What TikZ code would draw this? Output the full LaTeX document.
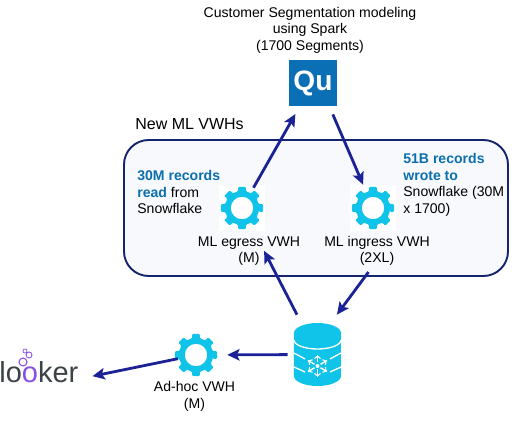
\documentclass[tikz,border=0pt]{standalone}
\usepackage{fontspec}
\setmainfont{Liberation Sans}
\usetikzlibrary{arrows.meta}
\definecolor{navyline}{HTML}{14246E}
\definecolor{panelfill}{HTML}{F8F9FC}
\definecolor{arrowblue}{HTML}{1A2296}
\definecolor{gearcyan}{HTML}{0FC4E8}
\definecolor{quboxblue}{HTML}{0A6FB4}
\definecolor{notesblue}{HTML}{0A6FAE}
\definecolor{lookergrey}{HTML}{3C4345}
\definecolor{lookerplum}{HTML}{8A4FE8}

\begin{document}
\begin{tikzpicture}[
  font=\fontsize{8}{9.4}\selectfont,
  arrow/.style={-{Stealth[length=7pt,width=6.5pt,inset=1.5pt]}, line width=1.6pt, draw=arrowblue},
  iconbox/.style={minimum size=0.92cm, inner sep=0pt},
  caplabel/.style={align=center},
  note/.style={align=left, anchor=west, inner sep=0pt},
  dbline/.style={draw=white, line width=0.75pt},
  cogicon/.pic={
    \fill[gearcyan, even odd rule, rounded corners=0.6pt] (-13:0.345)
      \foreach \a in {0,45,...,315} {
        -- (\a-13:0.345) -- (\a-10:0.43) -- (\a+10:0.43) -- (\a+13:0.345)
      } -- cycle
      (0,0) circle (0.225);
  },
]
\useasboundingbox (0,0) rectangle (10.32,8.42);

% ---- panel ----
\draw[rounded corners=14pt, draw=navyline, line width=1.1pt, fill=panelfill] (2.48,2.90) rectangle (10.16,5.62);
\node[font=\fontsize{9.1}{10}\selectfont, anchor=west, inner sep=0pt] (paneltitle) at (2.70,5.94) {New ML VWHs};

% ---- top: modeling ----
\node[caplabel] (modeling) at (6.2,7.82) {Customer Segmentation modeling\\using Spark\\(1700 Segments)};
\node[fill=quboxblue, minimum width=0.96cm, minimum height=0.92cm, inner sep=0pt,
  text=white, font=\fontsize{16}{16}\selectfont\bfseries] (qu) at (6.26,6.76) {Qu};

% ---- gears ----
\node[iconbox, fill=white] (egress) at (4.84,4.26) {};
\pic at (egress) {cogicon};
\node[iconbox, fill=white] (ingress) at (7.46,4.26) {};
\pic at (ingress) {cogicon};
\node[iconbox] (adhoc) at (3.92,1.32) {};
\pic at (adhoc) {cogicon};
\node[caplabel] (egresslabel) at (4.98,3.40) {ML egress VWH\\(M)};
\node[caplabel] (ingresslabel) at (7.54,3.40) {ML ingress VWH\\(2XL)};
\node[caplabel] (adhoclabel) at (3.89,0.49) {Ad-hoc VWH\\(M)};

% ---- notes ----
\node[note] (readnote) at (2.74,4.58) {{\color{notesblue}\bfseries 30M records}\\{\color{notesblue}\bfseries read} from\\Snowflake};
\node[note] (wrotenote) at (8.06,4.72) {{\color{notesblue}\bfseries 51B records}\\{\color{notesblue}\bfseries wrote to}\\Snowflake (30M\\x 1700)};

% ---- database ----
\node[minimum width=1.18cm, minimum height=1.58cm, inner sep=0pt] (db) at (6.35,1.33) {};
\fill[gearcyan] (5.88,1.76) arc (180:0:0.47 and 0.2) -- (6.82,0.90) arc (0:-180:0.47 and 0.2) -- cycle;
\draw[dbline] (5.88,1.62) arc (180:360:0.47 and 0.18);
\draw[dbline] (5.88,1.36) -- (6.10,1.24);
\draw[dbline] (6.82,1.36) -- (6.60,1.24);
\draw[dbline] (5.88,1.08) -- (6.10,0.98);
\draw[dbline] (6.82,1.08) -- (6.60,0.98);
\foreach \a in {30,90,...,330} {
  \draw[white, line width=0.8pt] (6.35,1.10) ++(\a:0.07) -- ++(\a:0.15);
  \draw[white, line width=0.6pt] (6.35,1.10) ++(\a+22:0.16) -- ++(\a-50:0.07);
  \draw[white, line width=0.6pt] (6.35,1.10) ++(\a-22:0.16) -- ++(\a+50:0.07);
}
\fill[white] (6.35,1.10) circle (0.04);

% ---- looker ----
\node[text=lookergrey, font=\fontsize{16.5}{16.5}\selectfont, anchor=west, inner sep=0pt] (looker) at (-0.02,0.98) {lo{\color{lookerplum}o}ker};
\draw[lookerplum, line width=0.6pt] (0.46,1.18) circle (0.08);
\draw[lookerplum, line width=0.5pt] (0.58,1.32) circle (0.06);
\draw[lookerplum, line width=0.4pt] (0.50,1.40) circle (0.04);

% ---- connectors ----
\draw[arrow, shorten <=-2pt, shorten >=5pt] (egress) -- (qu);
\draw[arrow, shorten <=5pt] (qu.-55) -- (ingress.113);
\draw[arrow, shorten >=12.5pt] (db) -- (egress);
\draw[arrow] (ingresslabel.-112) -- (db.64);
\draw[arrow, shorten >=4.5pt] (db) -- (adhoc);
\draw[arrow, shorten <=-3pt, shorten >=8pt] (adhoc) -- (looker.-10);

\end{tikzpicture}
\end{document}
